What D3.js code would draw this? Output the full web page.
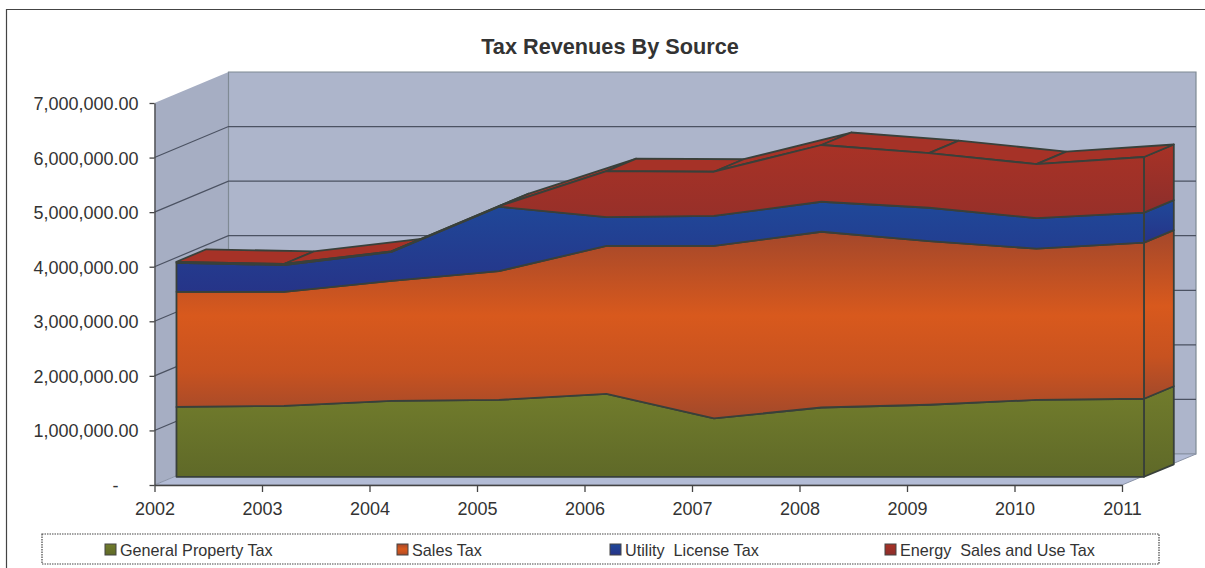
<!DOCTYPE html>
<html>
<head>
<meta charset="utf-8">
<style>
    body { margin: 0; background: #fff; }
    svg { display: block; }
    text { font-family: "Liberation Sans", Arial, sans-serif; fill: #333; }
    .axis path, .axis line { stroke: #444; stroke-width: 1.3; }
    .axis text { font-size: 18px; fill: #333; font-family: "Liberation Sans", Arial, sans-serif; }
    .edge { stroke: #39403a; stroke-width: 1.8; stroke-linejoin: round; }
    .grid { stroke: #4b5262; stroke-width: 1.2; }
</style>
<script src="https://cdn.jsdelivr.net/npm/d3@7"></script>
</head>
<body>
<svg id="chart" width="1205" height="568"></svg>
<script>
    const years = ["2002", "2003", "2004", "2005", "2006", "2007", "2008", "2009", "2010", "2011"];
    const generalProperty = [1280000, 1300000, 1390000, 1410000, 1520000, 1070000, 1270000, 1320000, 1410000, 1430000];
    const salesTax = [2110000, 2090000, 2200000, 2360000, 2710000, 3160000, 3220000, 3000000, 2770000, 2860000];
    const utilityLicense = [530000, 490000, 530000, 1180000, 530000, 550000, 550000, 610000, 560000, 550000];
    const energySales = [20000, 20000, 10000, 10000, 840000, 810000, 1040000, 1000000, 990000, 1020000];
    const seriesNames = ["General Property Tax", "Sales Tax", "Utility  License Tax", "Energy  Sales and Use Tax"];
    const yTicks = [0, 1000000, 2000000, 3000000, 4000000, 5000000, 6000000, 7000000];

    const svg = d3.select("#chart");
    const defs = svg.append("defs");

    const rows = years.map(function (y, i) {
        return {
            year: y,
            [seriesNames[0]]: generalProperty[i],
            [seriesNames[1]]: salesTax[i],
            [seriesNames[2]]: utilityLicense[i],
            [seriesNames[3]]: energySales[i]
        };
    });
    const stacked = d3.stack().keys(seriesNames)(rows);

    const x = d3.scalePoint().domain(years).range([154.5, 1122]);
    const y = d3.scaleLinear().domain([0, 7000000]).range([485, 103]);

    // oblique depth of the 3d box
    const depthX = 74, depthY = -31;
    const areaFront = 0.297, areaBack = 0.70, areaDrop = 1;

    function px(year, depth) { return x(year) + depth * depthX; }
    function py(value, depth) { return y(value) + depth * depthY; }
    function pa(value, depth) { return py(value, depth) + areaDrop; }
    function poly(points) { return "M" + points.map(function (p) { return p.join(","); }).join("L") + "Z"; }

    const gradientStops = [
        [["0%", "#717c2c"], ["100%", "#5f6928"]],
        [["0%", "#a3472b"], ["45%", "#d8591d"], ["75%", "#c75220"], ["100%", "#a2492b"]],
        [["0%", "#1f4899"], ["100%", "#263488"]],
        [["0%", "#a83226"], ["100%", "#8c2e2b"]]
    ];
    gradientStops.forEach(function (stops, i) {
        const g = defs.append("linearGradient").attr("id", "band" + i)
            .attr("x1", 0).attr("y1", 0).attr("x2", 0).attr("y2", 1);
        stops.forEach(function (s) {
            g.append("stop").attr("offset", s[0]).attr("stop-color", s[1]);
        });
    });

    // frame of the chart, open on the right and at the bottom
    svg.append("path").attr("d", "M6.5,568V9.5H1205").attr("fill", "none")
        .attr("stroke", "#444").attr("stroke-width", 1.2);

    svg.append("text").attr("x", 610).attr("y", 54).attr("text-anchor", "middle")
        .style("font-size", "21.7px").style("font-weight", "bold").text("Tax Revenues By Source");

    // walls and floor
    const first = years[0], last = years[years.length - 1];
    const walls = svg.append("g");
    walls.append("path")
        .attr("d", poly([[px(first, 0), py(7000000, 0)], [px(first, 1), py(7000000, 1)], [px(first, 1), py(0, 1)], [px(first, 0), py(0, 0)]]))
        .attr("fill", "#a6aec3");
    walls.append("path")
        .attr("d", poly([[px(first, 1), py(7000000, 1)], [px(last, 1), py(7000000, 1)], [px(last, 1), py(0, 1)], [px(first, 1), py(0, 1)]]))
        .attr("fill", "#adb5cb").attr("stroke", "#7f8a94").attr("stroke-width", 1.2);
    walls.append("path")
        .attr("d", poly([[px(first, 0), py(0, 0)], [px(first, 1), py(0, 1)], [px(last, 1), py(0, 1)], [px(last, 0), py(0, 0)]]))
        .attr("fill", "#b3bcd6").attr("stroke", "#8a93a6").attr("stroke-width", 1);

    // gridlines on left and back walls
    walls.selectAll("path.gl").data(yTicks.slice(1, -1)).enter().append("path")
        .attr("class", "grid").attr("fill", "none")
        .attr("d", function (d) {
            return "M" + px(first, 0) + "," + py(d, 0) + "L" + px(first, 1) + "," + py(d, 1) + "H" + px(last, 1);
        });

    // axes
    svg.append("g").attr("class", "axis").attr("transform", "translate(" + x.range()[0] + ",0)")
        .call(d3.axisLeft(y).tickValues(yTicks).tickSize(5).tickSizeOuter(0).tickPadding(11)
            .tickFormat(function (d) { return d === 0 ? "-" : d3.format(",.2f")(d); }))
        .selectAll("text").attr("dy", "0.36em");
    svg.append("g").attr("class", "axis").attr("transform", "translate(0," + y(0) + ")")
        .call(d3.axisBottom(x).tickSize(7).tickSizeOuter(0).tickPadding(10));
    svg.selectAll(".axis .tick").filter(function (d) { return d === 0; }).select("text")
        .attr("x", -36);

    const bands = svg.append("g");

    // side faces at the last year
    bands.selectAll("path.side").data(stacked).enter().append("path")
        .attr("class", "side edge")
        .attr("fill", function (d, i) { return "url(#band" + i + ")"; })
        .attr("d", function (s) {
            const v = s[s.length - 1];
            return poly([[px(last, areaFront), pa(v[0], areaFront)], [px(last, areaBack), pa(v[0], areaBack)],
                [px(last, areaBack), pa(v[1], areaBack)], [px(last, areaFront), pa(v[1], areaFront)]]);
        });

    // top surface of the stack, one piece per year step
    const topSeries = stacked[stacked.length - 1];
    bands.selectAll("path.top").data(d3.pairs(topSeries)).enter().append("path")
        .attr("class", "top edge").attr("fill", "#a63227")
        .attr("d", function (p) {
            const a = p[0].data.year, b = p[1].data.year;
            return poly([[px(a, areaFront), pa(p[0][1], areaFront)], [px(b, areaFront), pa(p[1][1], areaFront)],
                [px(b, areaBack), pa(p[1][1], areaBack)], [px(a, areaBack), pa(p[0][1], areaBack)]]);
        });

    // front faces
    const frontArea = d3.area()
        .x(function (d) { return px(d.data.year, areaFront); })
        .y0(function (d) { return pa(d[0], areaFront); })
        .y1(function (d) { return pa(d[1], areaFront); });
    bands.selectAll("path.front").data(stacked).enter().append("path")
        .attr("class", "front edge")
        .attr("fill", function (d, i) { return "url(#band" + i + ")"; })
        .attr("d", frontArea);

    // legend
    const legend = svg.append("g");
    legend.append("rect").attr("x", 42).attr("y", 534).attr("width", 1117).attr("height", 30)
        .attr("fill", "#fff").attr("stroke", "#444").attr("stroke-width", 1.2).attr("stroke-dasharray", "1.5,1");
    const legendX = [105, 397, 610, 885];
    const items = legend.selectAll("g").data(seriesNames).enter().append("g")
        .attr("transform", function (d, i) { return "translate(" + legendX[i] + ",544)"; });
    items.append("rect").attr("width", 11).attr("height", 11)
        .attr("fill", function (d, i) { return "url(#band" + i + ")"; })
        .attr("stroke", "#444").attr("stroke-width", 1);
    items.append("text").attr("x", 15).attr("y", 11.5)
        .style("font-size", "16.2px").style("white-space", "pre").attr("xml:space", "preserve")
        .text(function (d) { return d; });
</script>
</body>
</html>
